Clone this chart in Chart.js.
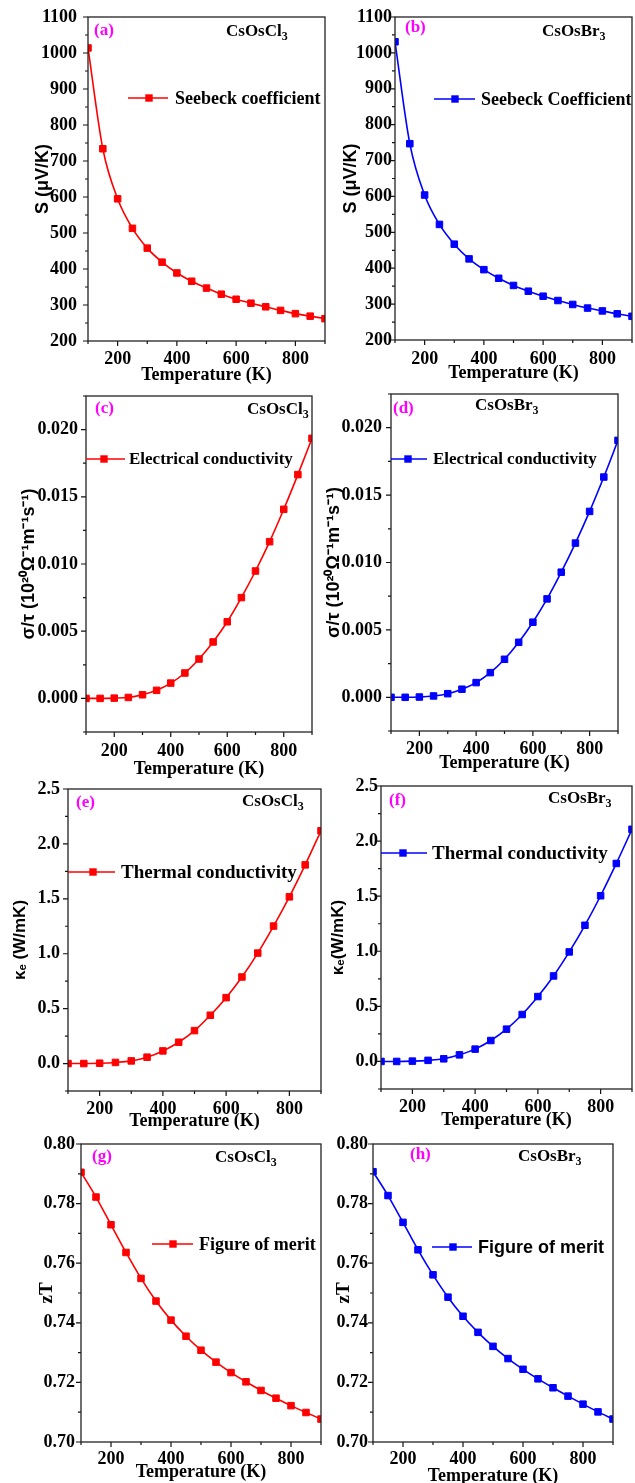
<!DOCTYPE html>
<html><head><meta charset="utf-8">
<script src="https://cdn.jsdelivr.net/npm/chart.js@4.4.1/dist/chart.umd.min.js"></script>
<style>
html,body{margin:0;padding:0;background:#fff;overflow:hidden}
body{width:635px;height:1483px;position:relative}
canvas{position:absolute}
</style>
</head><body>
<script>
// ---------------- DATA ----------------
const temperature = [100,150,200,250,300,350,400,450,500,550,600,650,700,750,800,850,900];
const seebeckCsOsCl3 = [1014,734,595,513,458,419,389,366,347,330,316,305,295,285,276,269,262];
const seebeckCsOsBr3 = [1031,747,604,522,467,426,396,372,352,336,322,310,299,289,281,273,266];
const elecCsOsCl3 = [0,0,0.00002,0.00007,0.00027,0.0006,0.00114,0.00189,0.00293,0.0042,0.0057,0.0075,0.00948,0.01166,0.01407,0.01665,0.01935];
const elecCsOsBr3 = [0,0,0.00002,0.0001,0.00027,0.0006,0.00109,0.00183,0.00282,0.00408,0.00557,0.0073,0.00928,0.01144,0.01379,0.01634,0.01906];
const thermCsOsCl3 = [0,0,0.003,0.01,0.024,0.058,0.115,0.194,0.3,0.44,0.6,0.788,1.006,1.252,1.518,1.809,2.12];
const thermCsOsBr3 = [0,0,0.003,0.01,0.024,0.06,0.112,0.19,0.293,0.426,0.589,0.776,0.994,1.236,1.504,1.797,2.107];
const zTCsOsCl3 = [0.7905,0.7822,0.7729,0.7636,0.7549,0.7473,0.7409,0.7355,0.7308,0.7268,0.7233,0.7202,0.7173,0.7147,0.7122,0.7099,0.7077];
const zTCsOsBr3 = [0.7907,0.7827,0.7737,0.7645,0.7561,0.7486,0.7422,0.7368,0.7321,0.7280,0.7244,0.7212,0.7182,0.7154,0.7127,0.7101,0.7077];

const xTickValues = [100,200,300,400,500,600,700,800,900];
const xTickLabels = ['','200','','400','','600','','800',''];
const seebeckTickValues = [200,250,300,350,400,450,500,550,600,650,700,750,800,850,900,950,1000,1050,1100];
const seebeckTickLabels = ['200','','300','','400','','500','','600','','700','','800','','900','','1000','','1100'];
const elecTickValues = [-0.0025,0,0.0025,0.005,0.0075,0.01,0.0125,0.015,0.0175,0.02,0.0225];
const elecTickLabels = ['','0.000','','0.005','','0.010','','0.015','','0.020',''];
const thermTickValues = [-0.25,0,0.25,0.5,0.75,1,1.25,1.5,1.75,2,2.25,2.5];
const thermTickLabels = ['','0.0','','0.5','','1.0','','1.5','','2.0','','2.5'];
const zTTickValues = [0.70,0.71,0.72,0.73,0.74,0.75,0.76,0.77,0.78,0.79,0.80];
const zTTickLabels = ['0.70','','0.72','','0.74','','0.76','','0.78','','0.80'];

const RED = '#ff0000', BLUE = '#0000ff', MAGENTA = '#ff00ff';
const SERIF = '"Liberation Serif","Times New Roman",serif';
const SANS = '"Liberation Sans",Arial,sans-serif';

// ---------------- PANELS (layout) ----------------
const panels = [
 {tag:'(a)', comp:'CsOsCl', series:seebeckCsOsCl3, color:RED, yT:seebeckTickValues, yL:seebeckTickLabels, yMin:200, yMax:1100,
  yTitle:'S (μV/K)', yTitleFont:{family:SANS,size:18,weight:'bold'},
  box:{l:88,t:17,r:325,b:341}, ytitleX:43, ytickPad:11, xtickPad:7.4, xAxisH:45.6,
  leg:{x1:128,x2:168,mx:149,y:98,tx:175,text:'Seebeck coefficient',font:'bold 18px '+SERIF},
  tagPos:{x:94,y:35}, compPos:{x:226,y:36}},
 {tag:'(b)', comp:'CsOsBr', series:seebeckCsOsBr3, color:BLUE, yT:seebeckTickValues, yL:seebeckTickLabels, yMin:200, yMax:1100,
  yTitle:'S (μV/K)', yTitleFont:{family:SANS,size:18,weight:'bold'},
  box:{l:395,t:17,r:632,b:340}, ytitleX:351, ytickPad:3, xtickPad:8.4, xAxisH:44.1,
  leg:{x1:434,x2:475,mx:455,y:99,tx:481,text:'Seebeck Coefficient',font:'bold 18px '+SERIF},
  tagPos:{x:405,y:32}, compPos:{x:542,y:36}},
 {tag:'(c)', comp:'CsOsCl', series:elecCsOsCl3, color:RED, yT:elecTickValues, yL:elecTickLabels, yMin:-0.0025, yMax:0.0225,
  yTitle:'σ/τ (10²⁰Ω⁻¹m⁻¹s⁻¹)', yTitleFont:{family:SANS,size:18,weight:'bold'},
  box:{l:86,t:396,r:312,b:732}, ytitleX:29, ytickPad:8, xtickPad:8.4, xAxisH:48.1,
  leg:{x1:86,x2:125,mx:104,y:459,tx:129,text:'Electrical conductivity',font:'bold 17px '+SERIF},
  tagPos:{x:95,y:413}, compPos:{x:247,y:414}},
 {tag:'(d)', comp:'CsOsBr', series:elecCsOsBr3, color:BLUE, yT:elecTickValues, yL:elecTickLabels, yMin:-0.0025, yMax:0.0225,
  yTitle:'σ/τ (10²⁰Ω⁻¹m⁻¹s⁻¹)', yTitleFont:{family:SANS,size:18,weight:'bold'},
  box:{l:391,t:394,r:618,b:731}, ytitleX:334, ytickPad:9, xtickPad:7.4, xAxisH:43.1,
  leg:{x1:391,x2:427,mx:408,y:459,tx:433,text:'Electrical conductivity',font:'bold 17px '+SERIF},
  tagPos:{x:393,y:413}, compPos:{x:475,y:410}},
 {tag:'(e)', comp:'CsOsCl', series:thermCsOsCl3, color:RED, yT:thermTickValues, yL:thermTickLabels, yMin:-0.25, yMax:2.5,
  yTitle:'κₑ (W/mK)', yTitleFont:{family:SANS,size:17,weight:'bold'},
  box:{l:68,t:789,r:321,b:1091}, ytitleX:20, ytickPad:8, xtickPad:7.4, xAxisH:41.6,
  leg:{x1:68,x2:115,mx:93,y:872,tx:121,text:'Thermal conductivity',font:'bold 19px '+SERIF},
  tagPos:{x:76,y:807}, compPos:{x:242,y:806}},
 {tag:'(f)', comp:'CsOsBr', series:thermCsOsBr3, color:BLUE, yT:thermTickValues, yL:thermTickLabels, yMin:-0.25, yMax:2.5,
  yTitle:'κₑ(W/mK)', yTitleFont:{family:SANS,size:17,weight:'bold'},
  box:{l:381,t:786,r:632,b:1089}, ytitleX:338, ytickPad:3, xtickPad:7.4, xAxisH:42.6,
  leg:{x1:381,x2:427,mx:403,y:853,tx:432,text:'Thermal conductivity',font:'bold 19px '+SERIF},
  tagPos:{x:389,y:805}, compPos:{x:548,y:803}},
 {tag:'(g)', comp:'CsOsCl', series:zTCsOsCl3, color:RED, yT:zTTickValues, yL:zTTickLabels, yMin:0.70, yMax:0.80,
  yTitle:'zT', yTitleFont:{family:SERIF,size:19,weight:'bold'},
  box:{l:81,t:1144,r:321,b:1442}, ytitleX:47, ytickPad:6, xtickPad:6.4, xAxisH:41.1,
  leg:{x1:152,x2:193,mx:173,y:1244,tx:199,text:'Figure of merit',font:'bold 18px '+SERIF},
  tagPos:{x:92,y:1161}, compPos:{x:215,y:1162}},
 {tag:'(h)', comp:'CsOsBr', series:zTCsOsBr3, color:BLUE, yT:zTTickValues, yL:zTTickLabels, yMin:0.70, yMax:0.80,
  yTitle:'zT', yTitleFont:{family:SERIF,size:19,weight:'bold'},
  box:{l:373,t:1144,r:613,b:1442}, ytitleX:344, ytickPad:5, xtickPad:6.4, xAxisH:45.1,
  leg:{x1:432,x2:472,mx:453,y:1247,tx:478,text:'Figure of merit',font:'bold 18px '+SANS},
  tagPos:{x:410,y:1159}, compPos:{x:518,y:1161}}
];

const TICK_FONT = {family:SERIF, size:18, weight:'bold'};
const XTITLE_FONT = {family:SERIF, size:18, weight:'bold'};
const PAD_T = 28, PAD_R = 16, PAD_B = 4;

function makePanel(p) {
  const b = p.box;
  const titleLH = p.yTitleFont.size * 1.2;
  const cl = Math.round(p.ytitleX - titleLH / 2);
  const yAxisW = b.l - cl;
  const ct = b.t - PAD_T;
  const cw = (b.r - cl) + PAD_R;
  const ch = Math.ceil(PAD_T + (b.b - b.t) + p.xAxisH + PAD_B);
  const canvas = document.createElement('canvas');
  canvas.width = cw; canvas.height = ch;
  canvas.style.left = cl + 'px'; canvas.style.top = ct + 'px';
  canvas.style.width = cw + 'px'; canvas.style.height = ch + 'px';
  document.body.appendChild(canvas);
  const padB = ch - (PAD_T + (b.b - b.t) + p.xAxisH);

  const decor = {
    id: 'decor',
    afterDraw(chart) {
      const ctx = chart.ctx, ca = chart.chartArea;
      const xs = chart.scales.x, ys = chart.scales.y;
      ctx.save();
      // ticks (major/minor, outward)
      ctx.strokeStyle = '#111'; ctx.lineWidth = 1.2;
      ctx.beginPath();
      xs.ticks.forEach(t => {
        const px = xs.getPixelForValue(t.value);
        const len = t.label ? 5 : 3;
        ctx.moveTo(px, ca.bottom); ctx.lineTo(px, ca.bottom + len);
      });
      ys.ticks.forEach(t => {
        const py = ys.getPixelForValue(t.value);
        const len = t.label ? 5 : 3;
        ctx.moveTo(ca.left, py); ctx.lineTo(ca.left - len, py);
      });
      ctx.stroke();
      // frame
      ctx.lineWidth = 1.3; ctx.strokeStyle = '#222';
      ctx.strokeRect(ca.left, ca.top, ca.right - ca.left, ca.bottom - ca.top);
      // legend
      const L = p.leg;
      ctx.strokeStyle = p.color; ctx.lineWidth = 1.6;
      ctx.beginPath(); ctx.moveTo(L.x1 - cl, L.y - ct); ctx.lineTo(L.x2 - cl, L.y - ct); ctx.stroke();
      ctx.fillStyle = p.color;
      ctx.fillRect(L.mx - cl - 3.7, L.y - ct - 3.7, 7.4, 7.4);
      ctx.fillStyle = '#000'; ctx.font = L.font; ctx.textBaseline = 'middle'; ctx.textAlign = 'left';
      ctx.fillText(L.text, L.tx - cl, L.y - ct + 1);
      // panel tag
      ctx.textBaseline = 'alphabetic';
      ctx.font = 'bold 17px ' + SERIF; ctx.fillStyle = MAGENTA;
      ctx.fillText(p.tag, p.tagPos.x - cl, p.tagPos.y - ct);
      // compound with subscript
      ctx.fillStyle = '#000';
      ctx.font = 'bold 17px ' + SERIF;
      const cx = p.compPos.x - cl, cy = p.compPos.y - ct;
      ctx.fillText(p.comp, cx, cy);
      const w = ctx.measureText(p.comp).width;
      ctx.font = 'bold 12px ' + SERIF;
      ctx.fillText('3', cx + w, cy + 4);
      ctx.restore();
    }
  };

  new Chart(canvas, {
    type: 'line',
    data: {
      datasets: [{
        data: temperature.map((t, i) => ({x: t, y: p.series[i]})),
        borderColor: p.color, backgroundColor: p.color,
        borderWidth: 1.6, cubicInterpolationMode: 'monotone',
        pointStyle: 'rect', pointRadius: 4.6, pointBorderWidth: 1,
        pointBackgroundColor: p.color, pointBorderColor: p.color,
        clip: 0
      }]
    },
    options: {
      responsive: false, animation: false, devicePixelRatio: 1,
      layout: {padding: {top: PAD_T, right: PAD_R, bottom: padB, left: 0}, autoPadding: false},
      plugins: {legend: {display: false}, tooltip: {enabled: false}},
      events: [],
      scales: {
        x: {
          type: 'linear', position: 'bottom', min: 100, max: 900,
          afterBuildTicks: s => { s.ticks = xTickValues.map(v => ({value: v})); },
          afterFit: s => { s.height = p.xAxisH; },
          ticks: {callback: (v, i) => xTickLabels[i], font: TICK_FONT, color: '#000', padding: p.xtickPad, autoSkip: false, maxRotation: 0, minRotation: 0},
          grid: {display: false, drawTicks: false},
          border: {display: false},
          title: {display: true, text: 'Temperature (K)', font: XTITLE_FONT, color: '#000', padding: 0}
        },
        y: {
          type: 'linear', position: 'left', min: p.yMin, max: p.yMax,
          afterBuildTicks: s => { s.ticks = p.yT.map(v => ({value: v})); },
          afterFit: s => { s.width = yAxisW; },
          ticks: {callback: (v, i) => p.yL[i], font: TICK_FONT, color: '#000', padding: p.ytickPad, autoSkip: false},
          grid: {display: false, drawTicks: false},
          border: {display: false},
          title: {display: true, text: p.yTitle, font: p.yTitleFont, color: '#000', padding: 0}
        }
      }
    },
    plugins: [decor]
  });
}

panels.forEach(makePanel);
</script>
</body></html>
